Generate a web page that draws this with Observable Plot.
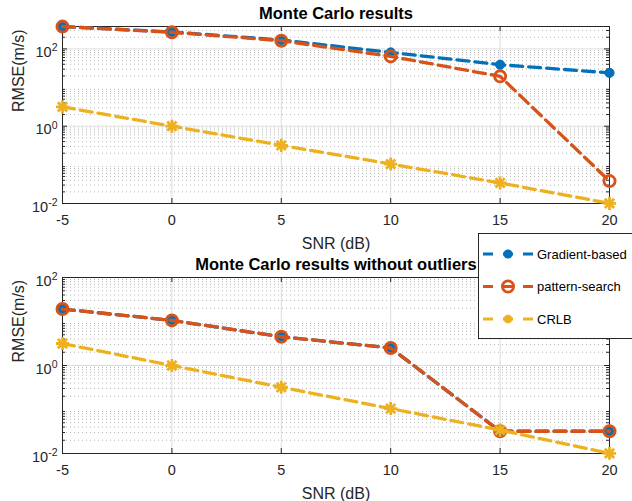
<!DOCTYPE html>
<html><head><meta charset="utf-8">
<script src="https://cdn.jsdelivr.net/npm/d3@7"></script>
<script src="https://cdn.jsdelivr.net/npm/@observablehq/plot@0.6"></script>
<style>
body{margin:0;width:632px;height:501px;overflow:hidden;position:relative;background:#fff;font-family:"Liberation Sans",Arial,Helvetica,sans-serif;}
#chart svg{display:block}
#legend{position:absolute;left:478px;top:233px;width:154px;height:107px}
</style></head><body><div id="chart"></div><div id="legend"></div>
<script>
// ---- data ----
const snr = [-5, 0, 5, 10, 15, 20];
const xTicks = [-5, 0, 5, 10, 15, 20];
const seriesNames = ["Gradient-based", "pattern-search", "CRLB"];
const seriesColors = ["#0072BD", "#D95319", "#EDB120"];

const topTitle = "Monte Carlo results";
const topGradient = [378, 274, 170, 81, 39, 24];
const topPattern  = [378, 270, 163, 64, 19.5, 0.038];
const topCRLB     = [3.16, 1, 0.32, 0.105, 0.034, 0.0101];

const bottomTitle = "Monte Carlo results without outliers";
const bottomGradient = [19.2, 10.6, 4.5, 2.5, 0.032, 0.032];
const bottomPattern  = [19.2, 10.6, 4.5, 2.5, 0.032, 0.032];
const bottomCRLB     = [3.16, 1, 0.32, 0.105, 0.034, 0.0101];

const yMajorTicks = [0.01, 1, 100];
const yMinorTicks = [0.02,0.03,0.04,0.05,0.06,0.07,0.08,0.09,
                     0.2,0.3,0.4,0.5,0.6,0.7,0.8,0.9,
                     2,3,4,5,6,7,8,9,
                     20,30,40,50,60,70,80,90,
                     200,300];
const xLabel = "SNR (dB)";
const yLabel = "RMSE(m/s)";

const FONT = '"Liberation Sans", Arial, Helvetica, sans-serif';

function panel({title, values, yDomain, height, marginTop, marginBottom}) {
  const width = 632, marginLeft = 62, marginRight = 23;
  const innerW = width - marginLeft - marginRight;
  const innerH = height - marginTop - marginBottom;
  const rows = [];
  seriesNames.forEach((name, i) => snr.forEach((x, j) => rows.push({series: name, snr: x, rmse: values[i][j]})));
  const ser = name => rows.filter(r => r.series === name);
  const minor = yMinorTicks.filter(v => v > yDomain[0] && v < yDomain[1]);
  const major = yMajorTicks.filter(v => v >= yDomain[0] && v <= yDomain[1]);
  const marks = [
    Plot.ruleY(minor, {stroke: "#b0b0b0", strokeDasharray: "1,3", strokeWidth: 0.9}),
    Plot.ruleY(major, {stroke: "#dcdcdc", strokeWidth: 1}),
    Plot.ruleX(xTicks, {stroke: "#dcdcdc", strokeWidth: 1}),
    // inner ticks
    Plot.ruleX(xTicks, {stroke: "#262626", insetTop: innerH - 5}),
    Plot.ruleX(xTicks, {stroke: "#262626", insetBottom: innerH - 5}),
    Plot.ruleY(major, {stroke: "#262626", insetRight: innerW - 5}),
    Plot.ruleY(major, {stroke: "#262626", insetLeft: innerW - 5}),
    Plot.ruleY(minor, {stroke: "#262626", insetRight: innerW - 3}),
    Plot.ruleY(minor, {stroke: "#262626", insetLeft: innerW - 3}),
    Plot.frame({stroke: "#262626", strokeWidth: 1}),
    Plot.axisX({ticks: xTicks, tickSize: 0, tickPadding: 11.5, tickFormat: d => String(d), fontSize: 14.5, label: null, fill: "#262626"}),
    Plot.axisY({ticks: major, tickSize: 0, tickPadding: 5, tickFormat: d => "10^" + Math.round(Math.log10(d)), fontSize: 14.5, label: null, fill: "#262626"}),
    Plot.text([xLabel], {text: d => d, frameAnchor: "bottom", dy: 40, fontSize: 16, lineAnchor: "middle", fill: "#262626"}),
    Plot.text([yLabel], {text: d => d, frameAnchor: "left", dx: -44, dy: -3, rotate: -90, fontSize: 16, lineAnchor: "middle", fill: "#262626"}),
    Plot.text([title], {text: d => d, frameAnchor: "top", dy: -13, fontSize: 16.5, fontWeight: "bold", lineAnchor: "middle", fill: "#000"})
  ];
  // series
  const dash = "12,6";
  marks.push(Plot.line(ser(seriesNames[0]), {x: "snr", y: "rmse", stroke: seriesColors[0], strokeWidth: 3.3, strokeDasharray: dash}));
  marks.push(Plot.dot(ser(seriesNames[0]), {x: "snr", y: "rmse", r: 4.6, fill: seriesColors[0], stroke: seriesColors[0], strokeWidth: 1}));
  marks.push(Plot.line(ser(seriesNames[1]), {x: "snr", y: "rmse", stroke: seriesColors[1], strokeWidth: 3.3, strokeDasharray: dash}));
  marks.push(Plot.dot(ser(seriesNames[1]), {x: "snr", y: "rmse", r: 5.6, fill: "none", stroke: seriesColors[1], strokeWidth: 2.8}));
  marks.push(Plot.line(ser(seriesNames[2]), {x: "snr", y: "rmse", stroke: seriesColors[2], strokeWidth: 3.3, strokeDasharray: dash}));
  marks.push(Plot.dot(ser(seriesNames[2]), {x: "snr", y: "rmse", symbol: "plus", r: 4.3, stroke: seriesColors[2], strokeWidth: 2.8}));
  marks.push(Plot.dot(ser(seriesNames[2]), {x: "snr", y: "rmse", symbol: "times", r: 4.3, stroke: seriesColors[2], strokeWidth: 2.8}));

  const svg = Plot.plot({
    width, height, marginLeft, marginRight, marginTop, marginBottom,
    style: {fontFamily: FONT, background: "#fff", overflow: "visible"},
    x: {domain: [-5, 20]},
    y: {type: "log", domain: yDomain},
    marks
  });
  // superscript exponents on the log-axis labels
  svg.querySelectorAll('g[aria-label="y-axis tick label"] text').forEach(t => {
    const s = t.textContent;
    const m = s.match(/^10\^(-?\d+)$/);
    if (!m) return;
    t.textContent = "";
    const base = document.createElementNS("http://www.w3.org/2000/svg", "tspan");
    base.textContent = "10";
    base.setAttribute("dy", "0.25em");
    const exp = document.createElementNS("http://www.w3.org/2000/svg", "tspan");
    exp.textContent = m[1];
    exp.setAttribute("dy", "-0.55em");
    exp.setAttribute("font-size", "10.5");
    t.appendChild(base); t.appendChild(exp);
  });
  return svg;
}

const chart = document.getElementById("chart");
chart.appendChild(panel({title: topTitle, values: [topGradient, topPattern, topCRLB], yDomain: [0.01, 380], height: 250, marginTop: 26, marginBottom: 47}));
chart.appendChild(panel({title: bottomTitle, values: [bottomGradient, bottomPattern, bottomCRLB], yDomain: [0.01, 100], height: 251, marginTop: 27, marginBottom: 48}));

// ---- legend ----
const lg = d3.select("#legend").append("svg").attr("width", 154).attr("height", 107).style("display", "block");
lg.append("rect").attr("x", 0.5).attr("y", 0.5).attr("width", 170).attr("height", 105).attr("fill", "#fff").attr("stroke", "#262626").attr("stroke-width", 1);
seriesNames.forEach((name, i) => {
  const y = 21 + i * 32.5;
  const g = lg.append("g").attr("transform", `translate(0,${y})`);
  g.append("line").attr("x1", 5).attr("x2", 55).attr("y1", 0).attr("y2", 0)
    .attr("stroke", seriesColors[i]).attr("stroke-width", 3).attr("stroke-dasharray", "10,10");
  if (i === 0) g.append("circle").attr("cx", 30).attr("r", 4.6).attr("fill", seriesColors[i]);
  if (i === 1) g.append("circle").attr("cx", 30).attr("r", 5.6).attr("fill", "none").attr("stroke", seriesColors[i]).attr("stroke-width", 2.8);
  if (i === 2) {
    g.append("path").attr("d", "M25.7,0H34.3M30,-4.3V4.3M27,-3L33,3M27,3L33,-3").attr("stroke", seriesColors[i]).attr("stroke-width", 2.8);
  }
  g.append("text").attr("x", 59).attr("y", 0).attr("dy", "0.35em").attr("font-size", 13).attr("fill", "#000")
    .style("font-family", FONT).text(name);
});
</script>
</body></html>
